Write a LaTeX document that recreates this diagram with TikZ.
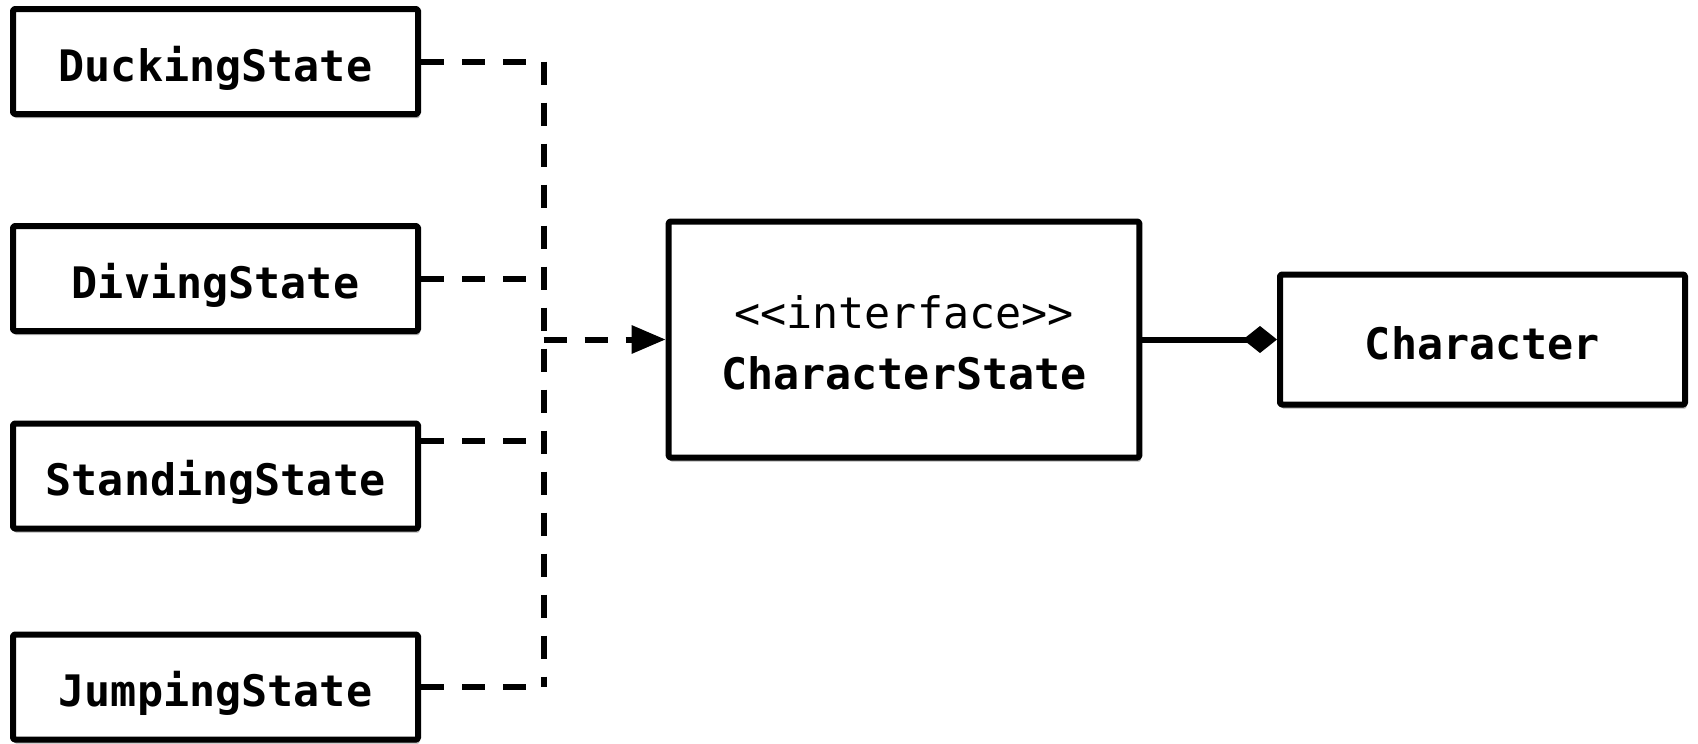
\documentclass[tikz,border=0pt]{standalone}
\usepackage{fontspec}
\newfontfamily\monofnt{DejaVu Sans Mono}
\usetikzlibrary{arrows.meta,shadows}
\begin{document}
\begin{tikzpicture}[x=1pt,y=-1pt,
  box/.style={draw, fill=white, line width=6pt, rectangle, inner sep=0pt,
    line join=round, rounded corners=1.5pt,
    general shadow={shadow xshift=0pt, shadow yshift=-2pt, shadow scale=1.006, opacity=0.12, fill=black},
    drop shadow={shadow xshift=1.5pt, shadow yshift=-4pt, opacity=0.3, fill=black},
    font=\monofnt\bfseries\fontsize{43.4}{52}\selectfont,
    text height=39pt, text depth=0pt},
  cls/.style={box, minimum width=405pt, minimum height=105pt},
  lbl/.style={anchor=base, inner sep=0pt, font=\monofnt\fontsize{43.4}{52}\selectfont},
  dashline/.style={line width=6pt, dash pattern=on 23pt off 18pt},
  solidline/.style={line width=6pt}]
\useasboundingbox (0,0) rectangle (1698,744);
\node[cls] (duck) at (215.5,61.5) {DuckingState};
\node[cls] (dive) at (215.5,278.5) {DivingState};
\node[cls] (stand) at (215.5,476) {StandingState};
\node[cls] (jump) at (215.5,687) {JumpingState};
\node[box, minimum width=470.6pt, minimum height=236pt] (cs) at (904,339.5) {};
\node[box, minimum width=405pt, minimum height=130pt] (ch) at (1482.5,339.5) {Character};
\node[lbl] (csst) at (904,328) {<\kern0pt<interface>\kern0pt>};
\node[lbl, font=\monofnt\bfseries\fontsize{43.4}{52}\selectfont] (csname) at (904,389) {CharacterState};
\coordinate (bus) at (543.7,0);
\coordinate (standout) at ([yshift=35pt]stand.east);
\draw[dashline] (bus |- duck.east) -- (bus |- jump.east);
\draw[dashline] (duck.east) -- (bus |- duck.east);
\draw[dashline] (dive.east) -- (bus |- dive.east);
\draw[dashline] (standout) -- (bus |- standout);
\draw[dashline] (jump.east) -- (bus |- jump.east);
\draw[dashline, -{Triangle[length=34pt,width=27pt]}] (bus |- cs.west) -- (cs.west);
\draw[solidline, -{Diamond[length=34pt,width=27pt]}] (cs.east) -- (ch.west);
\end{tikzpicture}
\end{document}
